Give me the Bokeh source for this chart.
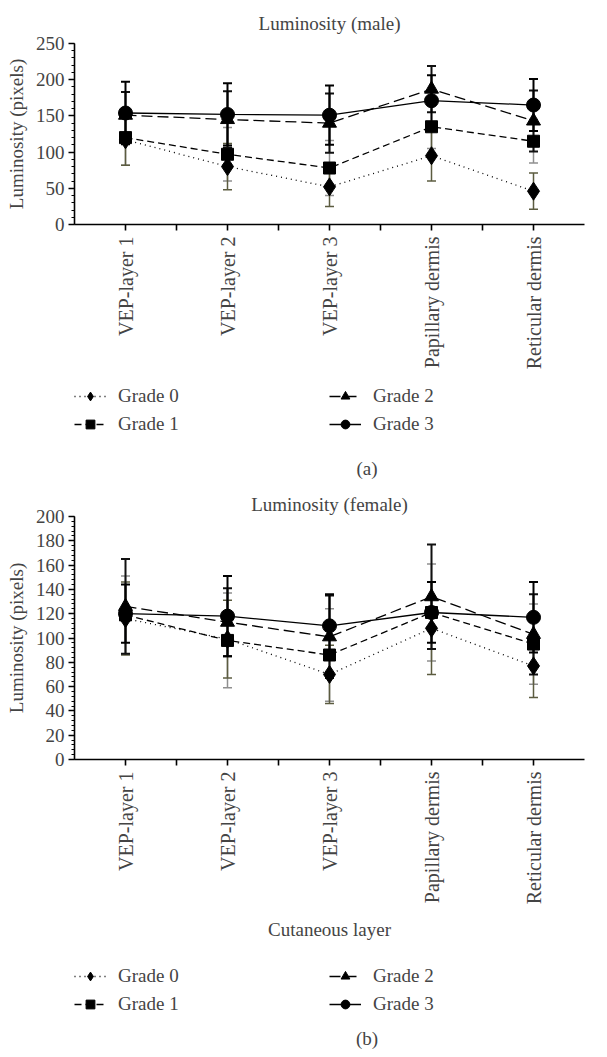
import math
from bokeh.plotting import figure
from bokeh.models import (ColumnDataSource, Whisker, TeeHead, FixedTicker, Range1d,
                          Legend, LegendItem, Title)
from bokeh.layouts import column
from bokeh.embed import file_html
from bokeh.resources import INLINE

layers = ["VEP-layer 1", "VEP-layer 2", "VEP-layer 3", "Papillary dermis", "Reticular dermis"]
grades = ["Grade 0", "Grade 1", "Grade 2", "Grade 3"]

# Male luminosity (mean) and error (SD)
male_g0 = [117, 80, 52, 95, 46]
male_g1 = [120, 97, 78, 135, 115]
male_g2 = [151, 145, 140, 187, 143]
male_g3 = [154, 152, 151, 171, 165]
male_sd0 = [35, 32, 27, 35, 25]
male_sd1 = [38, 37, 38, 30, 30]
male_sd2 = [32, 39, 41, 32, 42]
male_sd3 = [43, 43, 41, 35, 36]

# Female luminosity (mean) and error (SD)
female_g0 = [116, 99, 70, 108, 77]
female_g1 = [119, 98, 86, 121, 95]
female_g2 = [126, 113, 101, 134, 103]
female_g3 = [120, 118, 110, 121, 117]
female_sd0 = [30, 32, 24, 38, 26]
female_sd1 = [32, 39, 38, 40, 33]
female_sd2 = [39, 28, 34, 43, 33]
female_sd3 = [24, 33, 26, 25, 29]

FONT = "Liberation Serif"
FS = "19px"

styles = [
    dict(marker="diamond", size=18, dash="1 4", ecolor="#5c5c40", ewidth=1.5),
    dict(marker="square", size=12, dash="7 4", ecolor="#8f8f8f", ewidth=1.5),
    dict(marker="triangle", size=14, dash="11 5", ecolor="#111111", ewidth=2),
    dict(marker="circle", size=14, dash="solid", ecolor="#000000", ewidth=2),
]


def make_fig(title, means, sds, ymax, ystep, fheight, title_standoff, bottom, xlabel=None):
    p = figure(frame_width=510, frame_height=fheight, output_backend="svg",
               toolbar_location=None,
               x_range=Range1d(0.5, 5.5), y_range=Range1d(0, ymax),
               min_border_left=74, min_border_right=6, min_border_top=4,
               min_border_bottom=bottom)
    p.title.text = title
    p.title.align = "center"
    p.title.text_font = FONT
    p.title.text_font_size = FS
    p.title.text_font_style = "normal"
    p.title.standoff = title_standoff
    p.outline_line_color = None
    p.xgrid.visible = False
    p.ygrid.visible = False

    xs = [i + 1 for i in range(len(layers))]
    whiskers = []
    for k in range(len(means)):
        m = means[k]
        s = sds[k]
        src = ColumnDataSource(dict(x=xs, y=m,
                                    up=[a + b for a, b in zip(m, s)],
                                    lo=[a - b for a, b in zip(m, s)]))
        st = styles[k]
        w = Whisker(source=src, base="x", upper="up", lower="lo",
                    line_color=st["ecolor"], line_width=st["ewidth"],
                    upper_head=TeeHead(size=9, line_color=st["ecolor"], line_width=st["ewidth"]),
                    lower_head=TeeHead(size=9, line_color=st["ecolor"], line_width=st["ewidth"]))
        whiskers.append(w)
    for w in [whiskers[1], whiskers[0], whiskers[2], whiskers[3]]:
        p.add_layout(w)
    for k in range(len(means)):
        st = styles[k]
        src = ColumnDataSource(dict(x=xs, y=means[k]))
        p.line("x", "y", source=src, line_color="black", line_width=1.3,
               line_dash=st["dash"])
        p.scatter("x", "y", source=src, marker=st["marker"], size=st["size"],
                  fill_color="black", line_color="black")

    ticks = [1, 1.5, 2, 2.5, 3, 3.5, 4, 4.5, 5]
    overrides = {}
    for t in ticks:
        if float(t).is_integer():
            overrides[t] = layers[int(t) - 1]
        else:
            overrides[t] = ""
    xa = p.xaxis[0]
    xa.ticker = FixedTicker(ticks=ticks)
    xa.major_label_overrides = overrides
    xa.major_label_orientation = math.pi / 2
    xa.major_label_text_font = FONT
    xa.major_label_text_font_size = "20px"
    xa.major_tick_out = 6
    xa.major_tick_in = 0
    xa.minor_tick_out = 0
    xa.axis_line_width = 1.6
    xa.major_tick_line_width = 1.6
    xa.major_label_standoff = 6
    if xlabel:
        xa.axis_label = xlabel
        xa.axis_label_text_font = FONT
        xa.axis_label_text_font_size = FS
        xa.axis_label_text_font_style = "normal"
        xa.axis_label_standoff = 12

    ya = p.yaxis[0]
    ya.ticker = FixedTicker(ticks=list(range(0, ymax + 1, ystep)),
                            minor_ticks=list(range(0, ymax + 1, ystep // 5)))
    ya.major_label_text_font = FONT
    ya.major_label_text_font_size = FS
    ya.axis_label = "Luminosity (pixels)"
    ya.axis_label_text_font = FONT
    ya.axis_label_text_font_size = FS
    ya.axis_label_text_font_style = "normal"
    ya.axis_label_standoff = 6
    ya.major_tick_out = 6
    ya.major_tick_in = 0
    ya.minor_tick_out = 3
    ya.minor_tick_in = 0
    ya.axis_line_width = 1.6
    ya.major_tick_line_width = 1.6
    ya.minor_tick_line_width = 1.2
    ya.major_label_standoff = 4
    return p


LEG_H = 22 * 2 + 6


def make_legend_fig(caption, frame_h, bottom, legend_top, cap_standoff):
    q = figure(frame_width=585, frame_height=frame_h, output_backend="svg",
               toolbar_location=None, x_range=Range1d(0, 1), y_range=Range1d(0, 1),
               min_border_left=0, min_border_right=6, min_border_top=0,
               min_border_bottom=bottom)
    q.axis.visible = False
    q.grid.visible = False
    q.outline_line_color = None
    rends = []
    for k in range(len(grades)):
        st = styles[k]
        # legend-only renderers: NaN data, nothing is drawn in the frame
        src = ColumnDataSource(dict(x=[float("nan")], y=[float("nan")]))
        ln = q.line("x", "y", source=src, line_color="black", line_width=1.3,
                    line_dash=st["dash"])
        sc = q.scatter("x", "y", source=src, marker=st["marker"], size=st["size"],
                       fill_color="black", line_color="black")
        rends.append([ln, sc])
    order = [0, 2, 1, 3]
    items = [LegendItem(label=grades[k], renderers=rends[k]) for k in order]
    leg = Legend(items=items, orientation="horizontal", ncols=2,
                 location=(72, frame_h - legend_top - LEG_H), label_text_font=FONT,
                 label_text_font_size=FS, glyph_width=32, glyph_height=22,
                 label_standoff=12, label_width=205, spacing=6, padding=0, margin=0,
                 border_line_color=None, background_fill_alpha=0)
    q.add_layout(leg, "center")
    cap = Title(text=caption, align="center", text_font=FONT, text_font_size=FS,
                text_font_style="normal", standoff=cap_standoff)
    q.add_layout(cap, "below")
    return q


p1 = make_fig("Luminosity (male)", [male_g0, male_g1, male_g2, male_g3],
              [male_sd0, male_sd1, male_sd2, male_sd3], 250, 50, 181, 20, 159)
l1 = make_legend_fig("(a)", 70, 36, 2, 4)
p2 = make_fig("Luminosity (female)", [female_g0, female_g1, female_g2, female_g3],
              [female_sd0, female_sd1, female_sd2, female_sd3], 200, 20, 243, 4, 192,
              xlabel="Cutaneous layer")
l2 = make_legend_fig("(b)", 70, 29, 14, 8)

layout = column(p1, l1, p2, l2, spacing=0)
open("out.html", "w").write(file_html(layout, INLINE))
